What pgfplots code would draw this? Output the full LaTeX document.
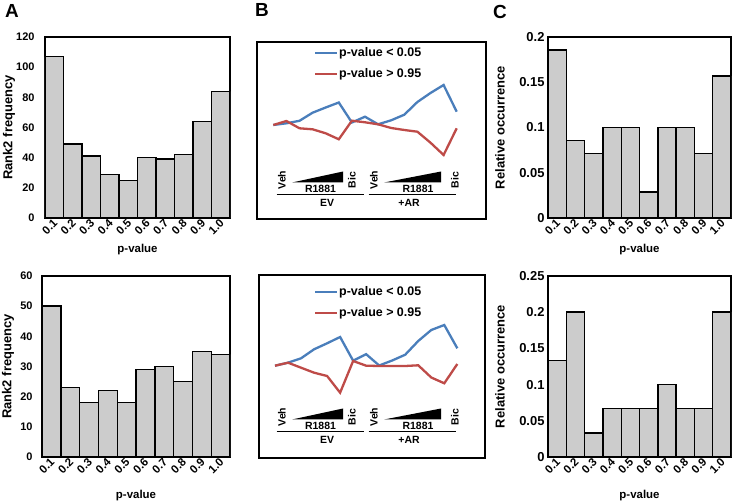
\documentclass[border=0pt]{standalone}
\usepackage{fontspec}
\setmainfont{Liberation Sans}
\usepackage{pgfplots}
\pgfplotsset{compat=1.18}
\definecolor{barfill}{RGB}{204,204,204}
\definecolor{lblue}{RGB}{74,126,187}
\definecolor{lred}{RGB}{190,75,72}
\newcommand{\lf}{\bfseries\fontsize{10.5}{12}\selectfont}
\newcommand{\legf}{\bfseries\fontsize{12.5}{14}\selectfont}
\newcommand{\pf}{\bfseries\fontsize{19}{22}\selectfont}
\pgfplotsset{
  hist/.style={
    scale only axis,
    anchor=south west,
    ybar, bar width=1,
    xmin=0.5, xmax=10.5, ymin=0,
    xtick={1,...,10},
    xticklabels={0.1,0.2,0.3,0.4,0.5,0.6,0.7,0.8,0.9,1.0},
    axis line style={line width=1.4bp},
    major tick length=0pt,
    /pgf/number format/assume math mode=true,
    xticklabel style={font=\bfseries\fontsize{11.5}{13}\selectfont, rotate=45, anchor=east, yshift=-3bp, xshift=2bp},
    xlabel style={font=\bfseries\fontsize{11.5}{13}\selectfont},
    ylabel style={font=\bfseries\fontsize{13}{15}\selectfont},
    xlabel={p-value},
    scaled y ticks=false,
    yticklabel style={/pgf/number format/fixed, /pgf/number format/precision=2},
  },
  linep/.style={
    scale only axis, anchor=south west,
    xtick=\empty, ytick=\empty,
    axis line style={line width=1.4bp},
    clip=false,
  },
  barp/.style={fill=barfill, draw=black, line width=1.4bp}
}
\begin{document}
\begin{tikzpicture}
\path[use as bounding box] (0,0) rectangle (733bp,503bp);

% ---------- A top ----------
\begin{axis}[hist, at={(45bp,285bp)}, width=185bp, height=181bp,
  ymax=120, ytick={0,20,...,120}, ylabel={Rank2 frequency},
  ylabel style={at={(axis description cs:-0.195,0.5)}, anchor=center},
  xlabel style={at={(axis description cs:0.5,-0.175)}, anchor=center},
  yticklabel style={font=\bfseries\fontsize{11}{13}\selectfont, xshift=-7bp}]
\addplot[barp] coordinates {(1,107) (2,49) (3,41) (4,29) (5,25) (6,40) (7,39) (8,42) (9,64) (10,84)};
\end{axis}

% ---------- A bottom ----------
\begin{axis}[hist, at={(42bp,46bp)}, width=188bp, height=181bp,
  ymax=60, ytick={0,10,...,60}, ylabel={Rank2 frequency},
  ylabel style={at={(axis description cs:-0.181,0.5)}, anchor=center},
  xlabel style={at={(axis description cs:0.5,-0.215)}, anchor=center},
  yticklabel style={font=\bfseries\fontsize{11}{13}\selectfont, xshift=-6bp}]
\addplot[barp] coordinates {(1,50) (2,23) (3,18) (4,22) (5,18) (6,29) (7,30) (8,25) (9,35) (10,34)};
\end{axis}

% ---------- C top ----------
\begin{axis}[hist, at={(548bp,285bp)}, width=183bp, height=181bp,
  ymax=0.2, ytick={0,0.05,0.1,0.15,0.2}, ylabel={Relative occurrence},
  ylabel style={at={(axis description cs:-0.262,0.5)}, anchor=center},
  xlabel style={at={(axis description cs:0.5,-0.175)}, anchor=center},
  yticklabel style={font=\bfseries\fontsize{13}{15}\selectfont, xshift=0bp}]
\addplot[barp] coordinates {(1,0.1857) (2,0.0857) (3,0.0714) (4,0.1) (5,0.1) (6,0.0286) (7,0.1) (8,0.1) (9,0.0714) (10,0.1571)};
\end{axis}

% ---------- C bottom ----------
\begin{axis}[hist, at={(548bp,46bp)}, width=183bp, height=181bp,
  ymax=0.25, ytick={0,0.05,0.1,0.15,0.2,0.25}, ylabel={Relative occurrence},
  ylabel style={at={(axis description cs:-0.262,0.5)}, anchor=center},
  xlabel style={at={(axis description cs:0.5,-0.215)}, anchor=center},
  yticklabel style={font=\bfseries\fontsize{13}{15}\selectfont, xshift=0bp}]
\addplot[barp] coordinates {(1,0.1333) (2,0.2) (3,0.0333) (4,0.0667) (5,0.0667) (6,0.0667) (7,0.1) (8,0.0667) (9,0.0667) (10,0.2)};
\end{axis}

% ---------- B top ----------
\begin{axis}[linep, at={(257bp,284bp)}, width=229bp, height=177bp,
  xmin=-0.244, xmax=17.237, ymin=0, ymax=177]
\addplot[lblue, line width=2.3bp] coordinates {(1,94) (2,95.7) (3,98.2) (4,106.3) (5,111.5) (6,116.5) (7,96.5) (8,102.3) (9,94.7) (10,98.7) (11,104.3) (12,117) (13,126) (14,134) (15,107.3)};
\addplot[lred, line width=2.3bp] coordinates {(1,94) (2,98) (3,90.7) (4,89.7) (5,85.7) (6,79.7) (7,98.3) (8,96.7) (9,94.7) (10,91) (11,89) (12,87.3) (13,76.3) (14,64) (15,90.7)};
\end{axis}

% ---------- B bottom ----------
\begin{axis}[linep, at={(259bp,45bp)}, width=226bp, height=183bp,
  xmin=-0.229, xmax=17.127, ymin=0, ymax=183]
\addplot[lblue, line width=2.3bp] coordinates {(1,92.3) (2,95.3) (3,99.7) (4,108.7) (5,114.7) (6,121) (7,97.3) (8,103.8) (9,92.5) (10,97.5) (11,103.3) (12,117) (13,128) (14,133) (15,109.7)};
\addplot[lred, line width=2.3bp] coordinates {(1,92.3) (2,95.3) (3,90.3) (4,85.3) (5,82) (6,65.3) (7,97) (8,92.3) (9,92) (10,92) (11,92) (12,92.7) (13,80.5) (14,74.7) (15,94)};
\end{axis}

% legends B
\foreach \dy in {0,239} {
  \draw[lblue, line width=2.3bp] (315bp,{(450-\dy)*1bp}) -- (337bp,{(450-\dy)*1bp});
  \node[anchor=west, inner sep=0pt, font=\legf] at (339bp,{(450-\dy)*1bp}) {p-value < 0.05};
  \draw[lred, line width=2.3bp] (315bp,{(429-\dy)*1bp}) -- (337bp,{(429-\dy)*1bp});
  \node[anchor=west, inner sep=0pt, font=\legf] at (339bp,{(429-\dy)*1bp}) {p-value > 0.95};
}

% annotations B
\foreach \dy in {0,237} {
  \node[rotate=90, inner sep=0pt, font=\lf] at (282bp,{(323-\dy)*1bp}) {Veh};
  \fill[black] (292bp,{(320.5-\dy)*1bp}) -- (343bp,{(320.5-\dy)*1bp}) -- (343bp,{(331.5-\dy)*1bp}) -- cycle;
  \node[inner sep=0pt, font=\lf] at (320.5bp,{(314-\dy)*1bp}) {R1881};
  \node[rotate=90, inner sep=0pt, font=\lf] at (352bp,{(323-\dy)*1bp}) {Bic};
  \draw[line width=1.3bp] (276.5bp,{(308.5-\dy)*1bp}) -- (364bp,{(308.5-\dy)*1bp});
  \node[inner sep=0pt, font=\lf] at (327bp,{(300-\dy)*1bp}) {EV};
  \node[rotate=90, inner sep=0pt, font=\lf] at (374bp,{(323-\dy)*1bp}) {Veh};
  \fill[black] (384bp,{(320.5-\dy)*1bp}) -- (441bp,{(320.5-\dy)*1bp}) -- (441bp,{(331.5-\dy)*1bp}) -- cycle;
  \node[inner sep=0pt, font=\lf] at (418bp,{(314-\dy)*1bp}) {R1881};
  \node[rotate=90, inner sep=0pt, font=\lf] at (455bp,{(323-\dy)*1bp}) {Bic};
  \draw[line width=1.3bp] (368.5bp,{(308.5-\dy)*1bp}) -- (456bp,{(308.5-\dy)*1bp});
  \node[inner sep=0pt, font=\lf] at (409bp,{(300-\dy)*1bp}) {+AR};
}

% panel letters
\node[inner sep=0pt, font=\pf] at (12bp,492bp) {A};
\node[inner sep=0pt, font=\pf] at (262bp,493bp) {B};
\node[inner sep=0pt, font=\pf] at (500bp,491bp) {C};
\end{tikzpicture}
\end{document}
